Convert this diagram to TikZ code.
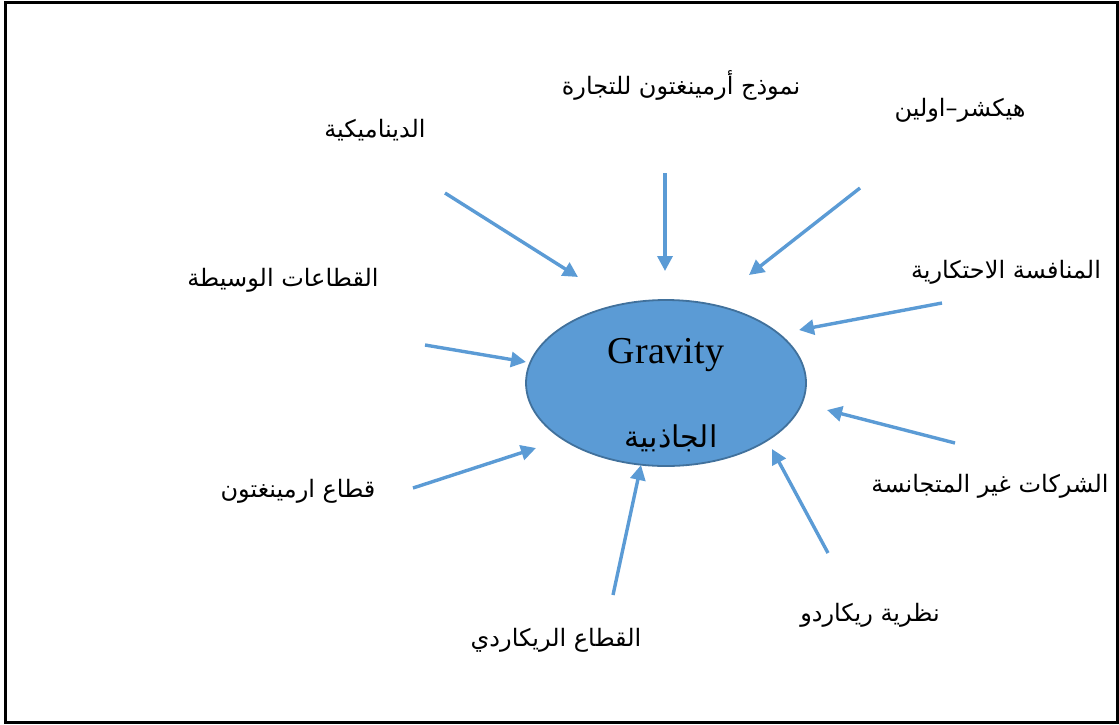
\documentclass[tikz,border=0pt]{standalone}
\usepackage{fontspec}
\usetikzlibrary{shapes.geometric, arrows.meta}
\newfontfamily\arabicfont[Script=Arabic]{DejaVu Sans}
\newfontfamily\gravfont{Liberation Serif}
\TeXXeTstate=1
\definecolor{gravblue}{HTML}{5B9BD5}
\definecolor{gravedge}{HTML}{41719C}

\tikzset{
  theory/.style={font=\arabicfont\fontsize{24}{28}\selectfont, inner sep=0pt},
  pull/.style={draw=gravblue, line width=3.4pt, -{Triangle[length=15pt, width=15pt]}}
}

\begin{document}
\begin{tikzpicture}[x=1pt, y=-1pt]
  \useasboundingbox (0,0) rectangle (1119,724);
  \draw[line width=3pt] (5,2) rectangle (1117,722);

  % centre
  \node (grav) [ellipse, fill=gravblue, draw=gravedge, line width=1.8pt,
        minimum width=280pt, minimum height=166pt] at (666,383) {};
  \node (gravEn) [font=\gravfont\fontsize{38}{42}\selectfont, inner sep=0pt] at (666,355) {Gravity};
  \node (gravAr) [theory, font=\arabicfont\fontsize{30}{34}\selectfont] at (671,438) {\beginR الجاذبية\endR};

  % labels
  \node (arm)  [theory] at (681,85)  {\beginR نموذج أرمينغتون للتجارة\endR};
  \node (ho)   [theory] at (960,110) {\beginR هيكشر–اولين\endR};
  \node (dyn)  [theory] at (375,130) {\beginR الديناميكية\endR};
  \node (mono) [theory] at (1006,272) {\beginR المنافسة الاحتكارية\endR};
  \node (mid)  [theory] at (283,280) {\beginR القطاعات الوسيطة\endR};
  \node (het)  [theory] at (990,486) {\beginR الشركات غير المتجانسة\endR};
  \node (armS) [theory] at (298,491) {\beginR قطاع ارمينغتون\endR};
  \node (ric)  [theory] at (870,615) {\beginR نظرية ريكاردو\endR};
  \node (ricS) [theory] at (556,640) {\beginR القطاع الريكاردي\endR};

  % arrow ends
  \coordinate (dynA) at (445,193);  \coordinate (dynB) at (578,277);
  \coordinate (armA) at (665,173);  \coordinate (armB) at (665,271);
  \coordinate (hoA) at (860,188);   \coordinate (hoB) at (749,275);
  \coordinate (monoA) at (942,303); \coordinate (monoB) at (799,330);
  \coordinate (midA) at (425,345);  \coordinate (midB) at (526,362);
  \coordinate (hetA) at (955,443);  \coordinate (hetB) at (827,410);
  \coordinate (armSA) at (413,488); \coordinate (armSB) at (536,448);
  \coordinate (ricA) at (828,553);  \coordinate (ricB) at (772,449);
  \coordinate (ricSA) at (613,595); \coordinate (ricSB) at (641,465);

  \draw[pull] (dynA) -- (dynB);
  \draw[pull] (armA) -- (armB);
  \draw[pull] (hoA) -- (hoB);
  \draw[pull] (monoA) -- (monoB);
  \draw[pull] (midA) -- (midB);
  \draw[pull] (hetA) -- (hetB);
  \draw[pull] (armSA) -- (armSB);
  \draw[pull] (ricA) -- (ricB);
  \draw[pull] (ricSA) -- (ricSB);
\end{tikzpicture}
\end{document}
